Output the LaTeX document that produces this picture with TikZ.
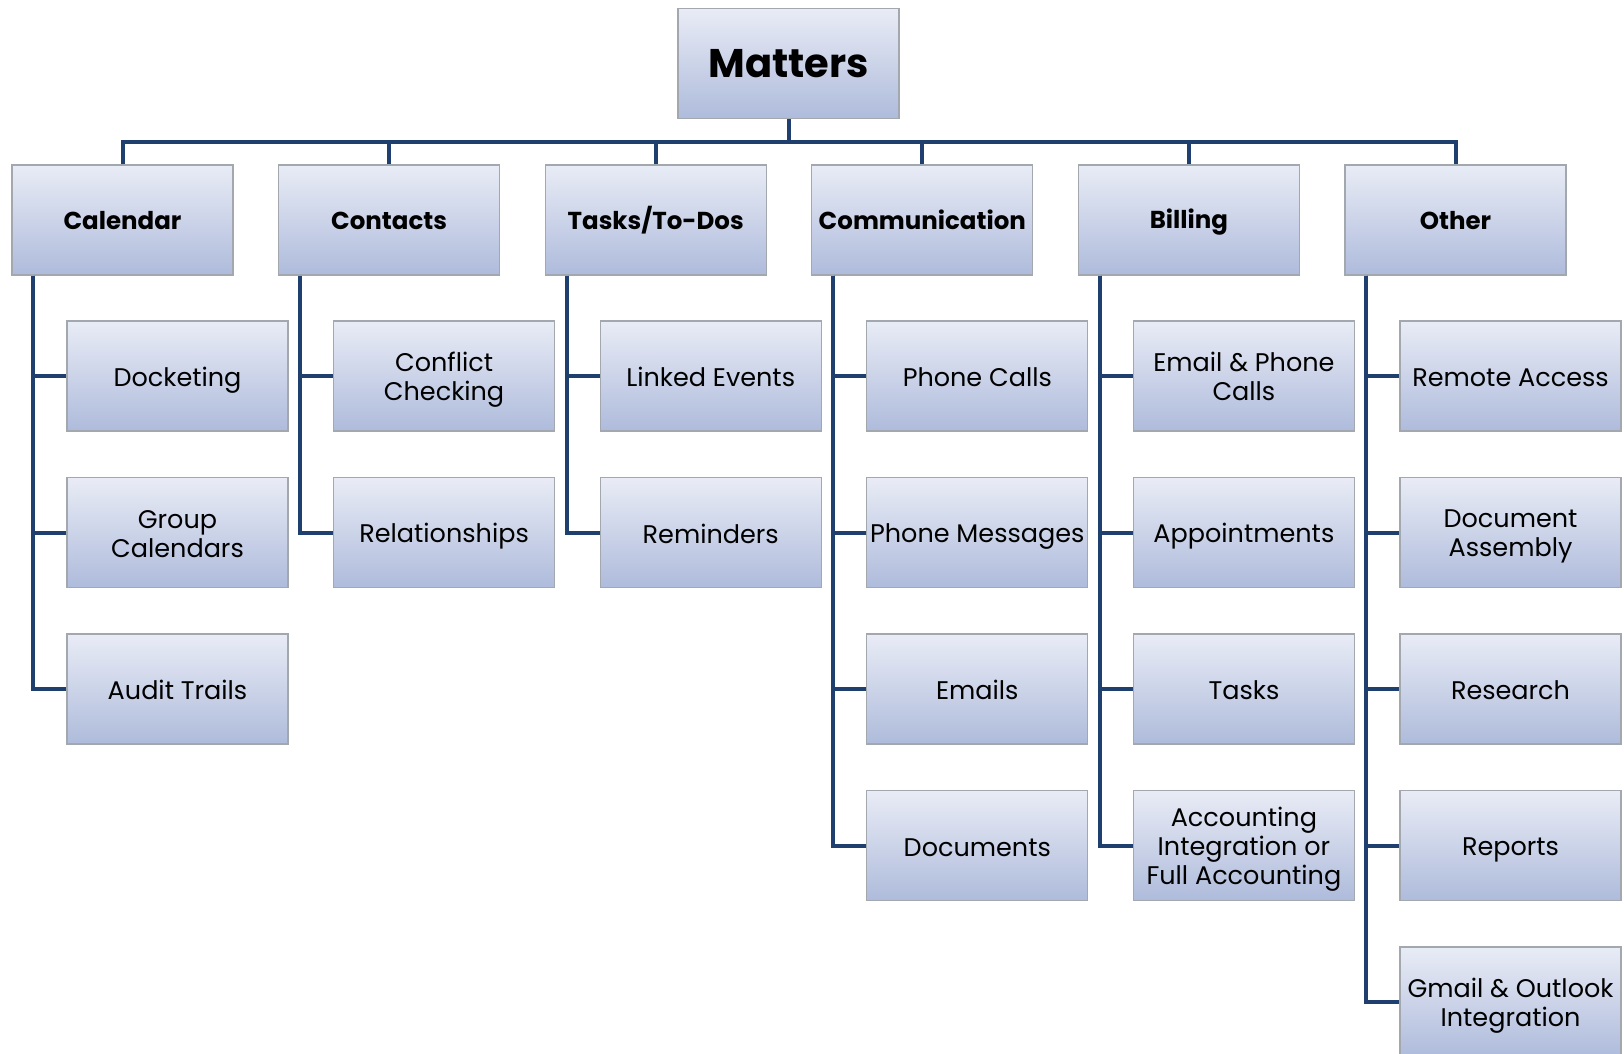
\documentclass[tikz,border=0pt]{standalone}
\usepackage{fontspec}
\setmainfont{Poppins}
\usetikzlibrary{calc}
\definecolor{boxtop}{HTML}{E9ECF6}
\definecolor{boxbot}{HTML}{AEBBDB}
\definecolor{boxline}{HTML}{A3A7AE}
\definecolor{navy}{HTML}{1F3F6F}
% raises the first line of a multi-line label
\newcommand\firstln{\rule{0pt}{26pt}}
\tikzset{
  card/.style={draw=boxline, line width=1.2pt, top color=boxtop, bottom color=boxbot,
    minimum width=221pt, minimum height=110pt, inner sep=2pt, align=center},
  % fixed line height and depth, so every single-line label sits alike
  struts/.style={execute at begin node={\rule{0pt}{#1}},
    execute at end node={\rule[-6pt]{0pt}{6pt}}},
  rootbox/.style={card, font=\fontsize{40}{44}\selectfont\bfseries},
  catbox/.style={card, struts=24pt, font=\fontsize{24.5}{28}\selectfont\bfseries},
  itembox/.style={card, struts=27pt, font=\fontsize{25.5}{29}\selectfont},
  conn/.style={draw=navy, line width=4pt, line join=miter},
}
\begin{document}
\begin{tikzpicture}[x=1pt,y=-1pt]
\useasboundingbox (0,0) rectangle (1624,1054);
\clip (0,0) rectangle (1624,1054);
\fill[white] (0,0) rectangle (1624,1054);

% root
\node[rootbox] (M) at (788.5,63.5) {Matters};

% categories
\node[catbox] (c1) at (122.5,220) {Calendar};
\node[catbox] (c2) at (389.1,220) {Contacts};
\node[catbox] (c3) at (655.7,220) {Tasks/To-Dos};
\node[catbox] (c4) at (922.3,220) {Communication};
\node[catbox] (c5) at (1188.9,220) {Billing};
\node[catbox] (c6) at (1455.5,220) {Other};

% items under Calendar
\node[itembox] (a1) at (177.5,376) {Docketing};
\node[itembox] (a2) at (177.5,532.5) {\firstln Group\\Calendars};
\node[itembox] (a3) at (177.5,689) {Audit Trails};
% items under Contacts
\node[itembox] (b1) at (444.1,376) {\firstln Conflict\\Checking};
\node[itembox] (b2) at (444.1,532.5) {Relationships};
% items under Tasks/To-Dos
\node[itembox] (t1) at (710.7,376) {Linked Events};
\node[itembox] (t2) at (710.7,532.5) {Reminders};
% items under Communication
\node[itembox] (m1) at (977.3,376) {Phone Calls};
\node[itembox] (m2) at (977.3,532.5) {Phone Messages};
\node[itembox] (m3) at (977.3,689) {Emails};
\node[itembox] (m4) at (977.3,845.5) {Documents};
% items under Billing
\node[itembox] (p1) at (1243.9,376) {\firstln Email \& Phone\\Calls};
\node[itembox] (p2) at (1243.9,532.5) {Appointments};
\node[itembox] (p3) at (1243.9,689) {Tasks};
\node[itembox] (p4) at (1243.9,845.5) {\firstln Accounting\\Integration or\\Full Accounting};
% items under Other
\node[itembox] (o1) at (1510.5,376) {Remote Access};
\node[itembox] (o2) at (1510.5,532.5) {\firstln Document\\Assembly};
\node[itembox] (o3) at (1510.5,689) {Research};
\node[itembox] (o4) at (1510.5,845.5) {Reports};
\node[itembox] (o5) at (1510.5,1002) {\firstln Gmail \& Outlook\\Integration};

% bus from the root to the categories
\coordinate (bus) at (788.5,142);
\draw[conn] (M.south) -- (bus);
\draw[conn] (c1.north) |- (bus) -| (c6.north);
\foreach \c in {c2,c3,c4,c5} \draw[conn] (\c.north) -- (\c.north |- bus);

% spines from each category to its items
\foreach \c/\items in {c1/{a1,a2,a3}, c2/{b1,b2}, c3/{t1,t2}, c4/{m1,m2,m3,m4}, c5/{p1,p2,p3,p4}, c6/{o1,o2,o3,o4,o5}}{
  \foreach \i in \items
    \draw[conn] ($(\c.south west)+(22,0)$) |- (\i.west);
}
\end{tikzpicture}
\end{document}
